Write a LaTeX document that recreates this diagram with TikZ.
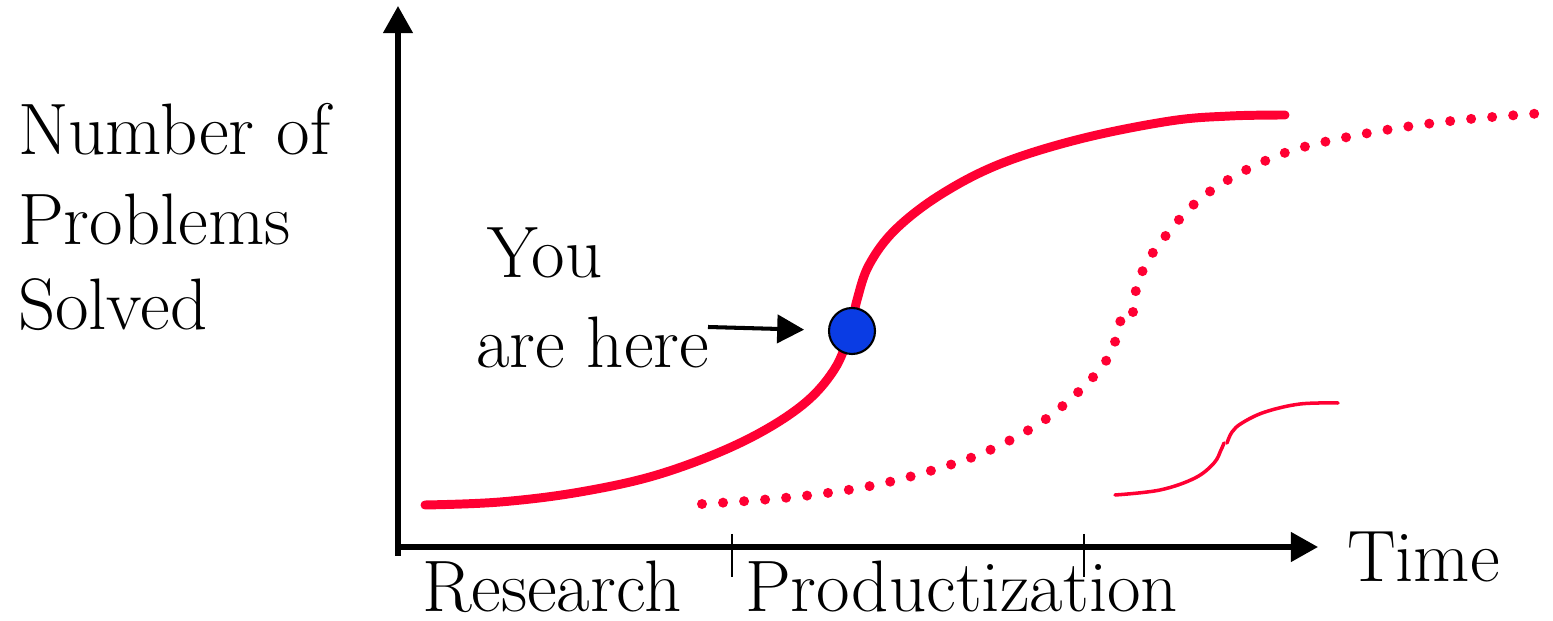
\documentclass[tikz,border=0pt]{standalone}
\usetikzlibrary{%
  arrows.meta,%
  positioning,% wg. " of "
  calc%
}
\definecolor{curvered}{RGB}{255,0,51}
\definecolor{dotblue}{RGB}{10,60,228}

\begin{document}
\begin{tikzpicture}
[x=0.02cm, y=-0.02cm, font=\fontsize{41.5}{50}\selectfont,
axis/.style={line width=2.9pt, -{Triangle[length=15.5pt, width=16.5pt]}},
tickmark/.style={line width=1.2pt},
label/.style={anchor=base west, inner sep=0pt, outer sep=0pt},
solidcurve/.style={curvered, line width=5.1pt, line cap=round, line join=round},
dotcurve/.style={curvered, line width=5.7pt, line cap=round, dash pattern=on 0pt off 12pt},
thincurve/.style={curvered, line width=2pt, line cap=round, line join=round},
marker/.style={circle, draw=black, line width=1.2pt, fill=dotblue, minimum size=0.92cm, inner sep=0pt},
pointer/.style={line width=2.3pt, -{Triangle[length=15.3pt, width=16pt]}, shorten >=13.6pt}]

\useasboundingbox (0,0) rectangle (1553,621);

% axes
\coordinate (ybottom) at (398,556);
\coordinate (ytop) at (398,6);
\coordinate (xleft) at (396,547);
\coordinate (xright) at (1318,547);
\draw[axis] (ybottom) -- (ytop);
\draw[axis] (xleft) -- (xright);

\foreach \x/\c in {732/1, 1084/2} {
  \coordinate (tickt\c) at (\x,534);
  \coordinate (tickb\c) at (\x,577);
  \draw[tickmark] (tickt\c) -- (tickb\c);
}

% labels
\foreach \p/\t/\c in {155/Number of/1, 245/Problems/2, 330/Solved/3} {
  \node[label] (ylabel\c) at (18,\p) {\t};
}
\node[label] (time) at (1347,582) {Time};
\node[label] (research) at (422,612) {Research};
\node[label] (product) at (745,612) {Productization};

% curves
\draw[solidcurve] plot[smooth, tension=0.6] coordinates {(425,505) (500,502) (580,492) (660,474) (740,443) (800,407) (834,370) (850,331) (857,300) (869,265) (895,230) (940,195) (1000,164) (1080,139) (1170,121) (1230,116) (1285,115)};

\draw[dotcurve] plot[smooth, tension=0.6] coordinates {(702,504) (760,500) (820,494) (880,484) (940,468) (990,450) (1040,423) (1075,395) (1101,368) (1112,349) (1119,329) (1122,307)};
\draw[dotcurve] plot[smooth, tension=0.6] coordinates {(1133,312) (1136,290) (1143,270) (1154,251) (1168,233) (1188,210) (1212,190) (1250,168) (1300,148) (1380,131) (1460,120) (1545,113)};

\draw[thincurve] plot[smooth, tension=0.6] coordinates {(1115,495) (1160,490) (1195,478) (1214,463) (1221,450) (1224,443)};
\draw[thincurve] plot[smooth, tension=0.6] coordinates {(1227,443) (1232,432) (1242,423) (1265,412) (1300,404) (1338,403)};

% you are here
\node[marker] (here) at (852,331) {};
\node[label] (you) at (487,278) {You};
\node[label] (arehere) at (476,368) {are here};
\coordinate (pointstart) at (708,327);
\draw[pointer] (pointstart) -- (here);

\end{tikzpicture}
\end{document}
